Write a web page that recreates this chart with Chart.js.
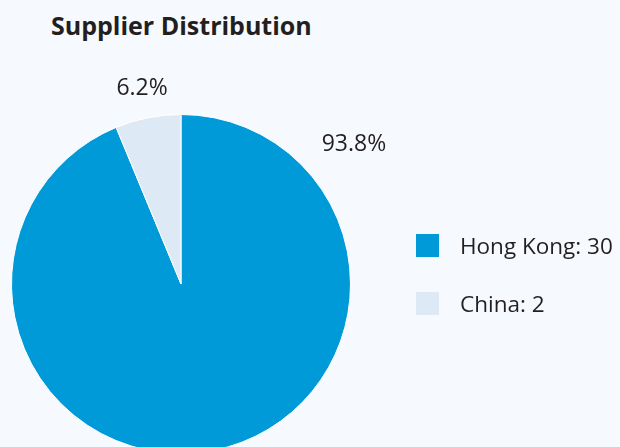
<!DOCTYPE html>
<html>
<head>
<meta charset="utf-8">
<script src="https://cdn.jsdelivr.net/npm/chart.js@4.4.1/dist/chart.umd.min.js"></script>
<style>
    html, body { margin: 0; padding: 0; }
    body {
        width: 620px;
        height: 447px;
        overflow: hidden;
        background: #f6fafe;
        position: relative;
        font-family: "Open Sans", sans-serif;
        color: #231f20;
    }
    .title {
        position: absolute;
        left: 51px;
        top: 8px;
        font-size: 25px;
        font-weight: 700;
    }
    #chartWrap { position: absolute; left: 0; top: 0; }
    .legend { position: absolute; left: 416px; top: 229px; }
    .legend-item {
        display: flex;
        align-items: center;
        height: 33px;
        margin-bottom: 25px;
        font-size: 22.5px;
        white-space: nowrap;
    }
    .legend-box { width: 23px; height: 23px; margin-right: 21px; }
</style>
</head>
<body>
<div class="title">Supplier Distribution</div>
<div id="chartWrap"><canvas id="supplierChart" width="620" height="470"></canvas></div>
<div class="legend" id="legend"></div>
<script>
// data
const suppliers = ["Hong Kong", "China"]
const supplierCounts = [30, 2]
const sliceColors = ["#009ad9", "#dde9f5"]

const total = supplierCounts.reduce((a, b) => a + b, 0)

// round half to even, one decimal (6.25 -> 6.2, 93.75 -> 93.8)
function pctText(v) {
    const x = (v / total) * 1000
    let r = Math.round(x)
    if (Math.abs(x - Math.floor(x) - 0.5) < 1e-9) {
        r = Math.floor(x) % 2 === 0 ? Math.floor(x) : Math.floor(x) + 1
    }
    return (r / 10).toFixed(1) + "%"
}

// html legend
const legendEl = document.getElementById("legend")
suppliers.forEach((name, i) => {
    const row = document.createElement("div")
    row.className = "legend-item"
    row.innerHTML =
        '<span class="legend-box" style="background:' + sliceColors[i] + '"></span>' +
        name + ": " + supplierCounts[i]
    legendEl.appendChild(row)
})

// percent labels outside the slices
const pctLabels = {
    id: "pctLabels",
    afterDatasetsDraw(chart) {
        const ctx = chart.ctx
        const arcs = chart.getDatasetMeta(0).data
        ctx.save()
        ctx.font = '400 23px "Open Sans", sans-serif'
        ctx.fillStyle = "#231f20"
        ctx.textAlign = "center"
        ctx.textBaseline = "middle"
        arcs.forEach((arc, i) => {
            // big slice label sits up at the top-right, small one at its middle
            let angle = (arc.startAngle + arc.endAngle) / 2
            let dist = arc.outerRadius + 30
            if (supplierCounts[i] / total > 0.5) {
                angle = arc.startAngle + 0.89
                dist = arc.outerRadius + 53
            }
            ctx.fillText(pctText(supplierCounts[i]), arc.x + Math.cos(angle) * dist, arc.y + Math.sin(angle) * dist)
        })
        ctx.restore()
    },
}

const supplierCtx = document.getElementById("supplierChart")
new Chart(supplierCtx, {
    type: "pie",
    data: {
        labels: suppliers,
        datasets: [
            {
                data: supplierCounts,
                backgroundColor: sliceColors,
                borderColor: "#ffffff",
                borderWidth: 1,
            },
        ],
    },
    options: {
        responsive: false,
        animation: false,
        layout: { padding: { left: 11, right: 269, top: 113, bottom: 15 } },
        plugins: {
            legend: { display: false },
            tooltip: { enabled: false },
        },
    },
    plugins: [pctLabels],
})
</script>
</body>
</html>
